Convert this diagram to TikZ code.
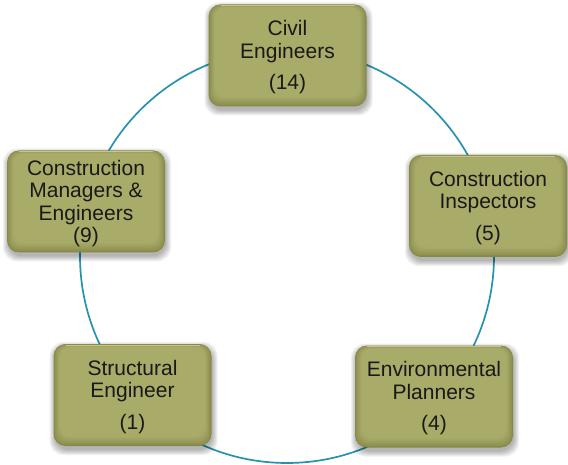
\documentclass[tikz,border=0pt]{standalone}
\usepackage{fontspec}
\setmainfont{Liberation Sans}
\usetikzlibrary{calc}
\definecolor{olD}{HTML}{878949}
\definecolor{olL}{HTML}{A9AB69}
\definecolor{olH}{HTML}{C4C68E}
\definecolor{ringc}{HTML}{2792AF}
\tikzset{
  obox/.style={rounded corners=12pt, minimum width=158pt, minimum height=102pt,
    inner sep=0pt, align=center, text=black!90,
    font=\fontsize{21}{22.5}\selectfont, fill=olD,
    path picture={
      \foreach \i/\c in {1/25,2/45,3/62,4/78,5/90,6/100}{
        \fill[olL!\c!olD, rounded corners=10pt]
          ([shift={(\i*1.1pt,\i*1.6pt)}]path picture bounding box.south west)
          rectangle ([shift={(-\i*1.1pt,-\i*0.5pt)}]path picture bounding box.north east);
      }
      \draw[olH, line width=0.9pt]
          ([shift={(12pt,-1.3pt)}]path picture bounding box.north west) --
          ([shift={(-12pt,-1.3pt)}]path picture bounding box.north east);
    }},
  ring/.style={draw=ringc, line width=1.7pt},
  shadowlayer/.style={fill=black, opacity=0.055, rounded corners=14pt},
}
\newcommand\olivebox[4]{%
  \foreach \g in {0,1,2,3,4,5}{%
    \fill[shadowlayer] ($(#2,#3)+(-78-\g,-48-\g)$) rectangle ($(#2,#3)+(80+\g,55+\g)$);
  }
  \node[obox] (#1) at (#2,#3) {};
  \node[align=center, text=black!90, font=\fontsize{21}{22.5}\selectfont, inner sep=0pt]
    (#1-text) at ([yshift=-2pt]#1.center) {#4};
}
\begin{document}
\begin{tikzpicture}[x=1pt,y=-1pt]
\useasboundingbox (0,0) rectangle (568,465);
\coordinate (ctr) at (287,256);
\draw[ring] (ctr) circle[radius=207];
\olivebox{civil}{287.5}{55.5}{Civil\\Engineers\\[9pt](14)}
\olivebox{cm}{86}{201.5}{Construction\\Managers \&\\Engineers\\(9)}
\olivebox{ci}{488}{206}{Construction\\Inspectors\\[9pt](5)}
\olivebox{se}{132.5}{395}{Structural\\Engineer\\[9pt](1)}
\olivebox{ep}{434}{396.5}{Environmental\\Planners\\[9pt](4)}
\end{tikzpicture}
\end{document}
